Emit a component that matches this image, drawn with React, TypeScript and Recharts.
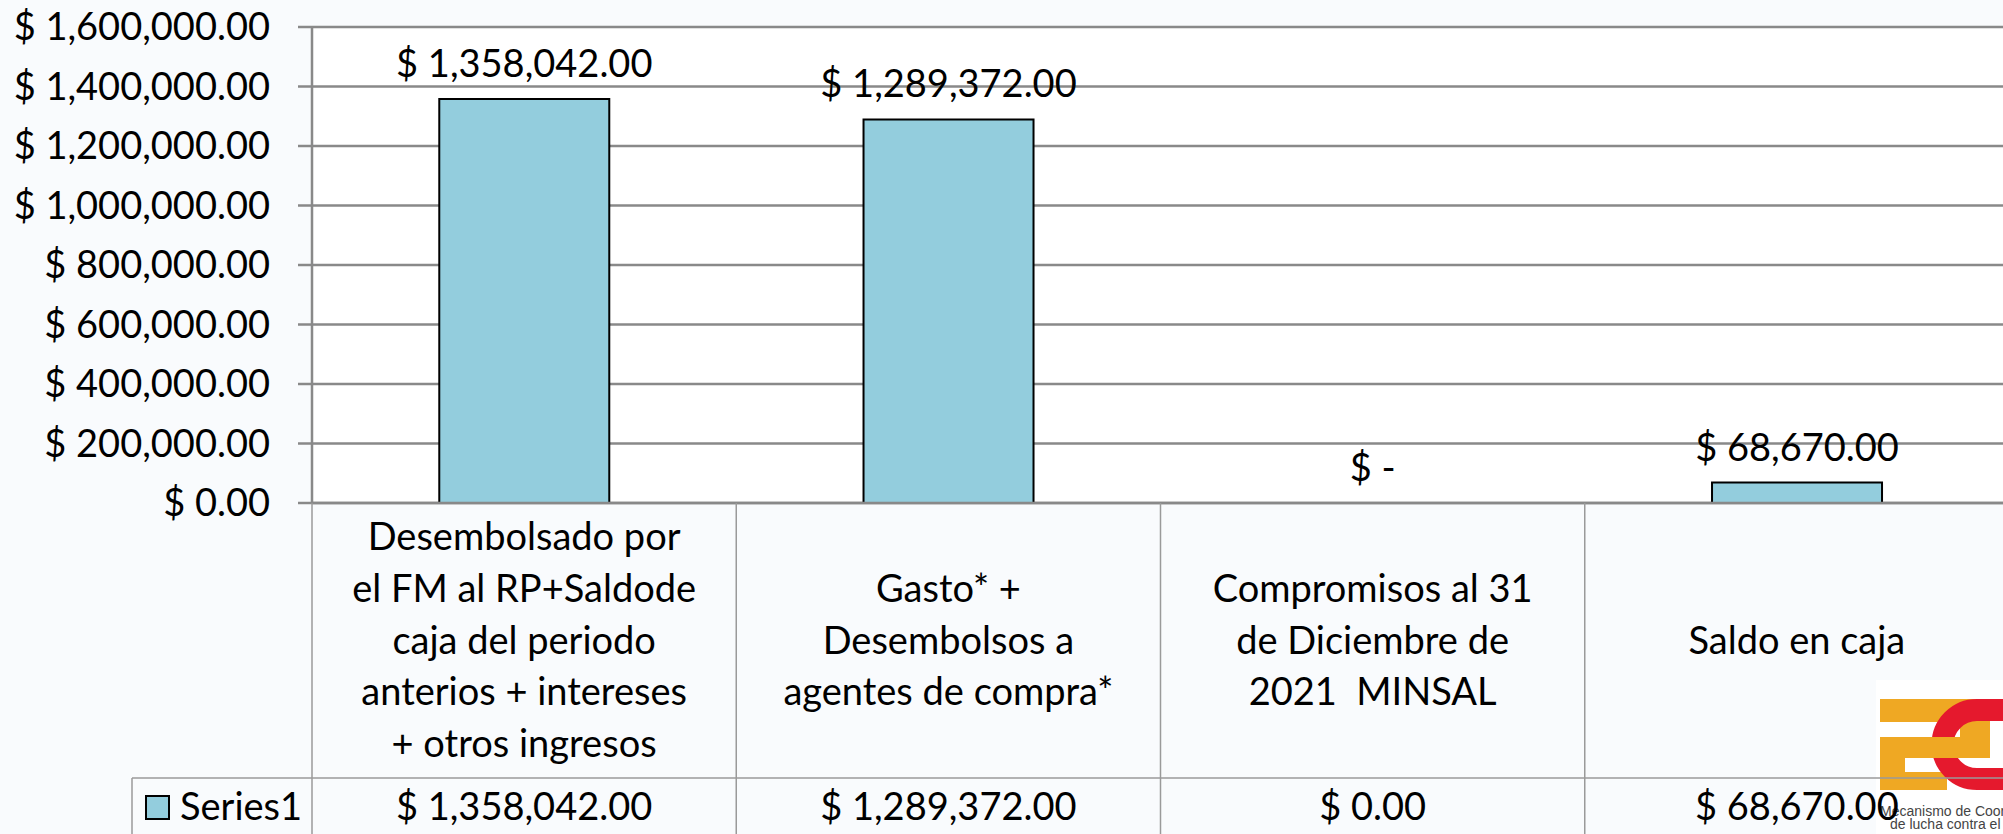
import React from "react";
import { Bar, BarChart, CartesianGrid, LabelList, XAxis, YAxis } from "recharts";

// chart values
const CATEGORY_LINES: string[][] = [
  ["Desembolsado por", "el FM al RP+Saldode", "caja del periodo", "anterios + intereses", "+ otros ingresos"],
  ["Gasto* +", "Desembolsos a", "agentes de compra*"],
  ["Compromisos al 31", "de Diciembre de", "2021  MINSAL"],
  ["Saldo en caja"],
];
const SERIES_NAME = "Series1";
const SERIES1 = [1358042, 1289372, 0, 68670];
const Y_TICKS = [0, 200000, 400000, 600000, 800000, 1000000, 1200000, 1400000, 1600000];

const data = CATEGORY_LINES.map((lines, i) => ({ name: lines.join(" "), value: SERIES1[i] }));

// layout
const FONT = "Lato, 'Open Sans', sans-serif";
const FS = 38;
const CHART_W = 2020;
const CHART_H = 834;
const PLOT_LEFT = 312;
const MARGIN_RIGHT = 11;
const X_AXIS_H = 331;
const ZERO_Y = CHART_H - X_AXIS_H;
const ROW_Y = 778;
const LINE_H = 51.7;
const BAND = (CHART_W - PLOT_LEFT - MARGIN_RIGHT) / SERIES1.length;
const TABLE_LEFT = 132;
const LABEL_OFFSET = 22;

const GRID = "#898989";
const TABLE_LINE = "#9a9a9a";
const BAR_FILL = "#93cddd";

const money = (v: number) =>
  "$ " + v.toLocaleString("en-US", { minimumFractionDigits: 2, maximumFractionDigits: 2 });

function TableTick(props: any) {
  const { x, payload } = props;
  const i = payload.index;
  const lines = CATEGORY_LINES[i];
  const left = x - BAND / 2;
  const mid = (ZERO_Y + ROW_Y) / 2;
  const first = mid - ((lines.length - 1) / 2) * LINE_H + 13;
  return (
    <g>
      <line x1={left} x2={left} y1={ZERO_Y} y2={CHART_H} stroke={TABLE_LINE} strokeWidth={1.5} />
      {lines.map((l, k) => (
        <text key={k} x={x} y={first + k * LINE_H} textAnchor="middle" fontSize={FS}
          fontFamily={FONT} fill="#000" style={{ whiteSpace: "pre" }}>
          {l}
        </text>
      ))}
      {/* zero bars draw no rectangle, so their "$ -" label sits on the axis */}
      {SERIES1[i] === 0 && (
        <text x={x} y={ZERO_Y - LABEL_OFFSET} textAnchor="middle" fontSize={FS} fontFamily={FONT} fill="#000">
          $ -
        </text>
      )}
      <text x={x} y={820} textAnchor="middle" fontSize={FS} fontFamily={FONT} fill="#000">
        {money(SERIES1[i])}
      </text>
      {i === 0 && (
        <g>
          <line x1={TABLE_LEFT} x2={CHART_W} y1={ROW_Y} y2={ROW_Y} stroke={TABLE_LINE} strokeWidth={1.5} />
          <line x1={TABLE_LEFT} x2={TABLE_LEFT} y1={ROW_Y} y2={CHART_H} stroke={TABLE_LINE} strokeWidth={1.5} />
          <rect x={146} y={796} width={23} height={23} fill={BAR_FILL} stroke="#000" strokeWidth={2} />
          <text x={180} y={820} fontSize={FS} fontFamily={FONT} fill="#000">{SERIES_NAME}</text>
        </g>
      )}
    </g>
  );
}

function Logo() {
  return (
    <svg width={127} height={154} style={{ position: "absolute", left: 1876, top: 680 }}>
      <rect x={0} y={0} width={127} height={154} fill="#ffffff" />
      <path d="M4,19 H114 V78 H29 V92 H71 V110 H4 V57 H84 V42 H4 Z" fill="#efa823" />
      <path d="M132,30 H101 A34,34 0 0 0 101,99 H132" fill="none" stroke="#e5192d" strokeWidth={22} />
      <rect x={4} y={57} width={84} height={21} fill="#efa823" />
      <text x={4} y={136} fontSize={14} fontFamily="'Liberation Sans', Arial, sans-serif" fill="#444">
        Mecanismo de Coordinación
      </text>
      <text x={14} y={149} fontSize={14} fontFamily="'Liberation Sans', Arial, sans-serif" fill="#444">
        de lucha contra el
      </text>
    </svg>
  );
}

export default function App() {
  return (
    <div style={{ position: "absolute", left: 0, top: 0, width: 2003, height: 834, overflow: "hidden", background: "#f9fbfd" }}>
      <Logo />
      <div style={{ position: "absolute", left: 0, top: 0 }}>
        <BarChart width={CHART_W} height={CHART_H} data={data} barCategoryGap="30%"
          margin={{ top: 27, right: MARGIN_RIGHT, bottom: 0, left: 0 }}>
          <CartesianGrid vertical={false} stroke={GRID} strokeWidth={2.5} fill="#ffffff" fillOpacity={1} />
          <XAxis dataKey="name" height={X_AXIS_H} interval={0} tickLine={false}
            axisLine={{ stroke: GRID, strokeWidth: 2.5 }} tick={<TableTick />} />
          <YAxis width={PLOT_LEFT} domain={[0, 1600000]} ticks={Y_TICKS} interval={0}
            tickFormatter={money} tickSize={14} tickMargin={28}
            axisLine={{ stroke: GRID, strokeWidth: 2.5 }} tickLine={{ stroke: GRID, strokeWidth: 2.5 }}
            tick={{ fill: "#000", fontSize: FS, fontFamily: FONT }} />
          <Bar dataKey="value" fill={BAR_FILL} stroke="#000" strokeWidth={2} isAnimationActive={false}>
            <LabelList dataKey="value" position="top" offset={LABEL_OFFSET}
              formatter={(v: any) => (Number(v) === 0 ? "" : money(Number(v)))}
              style={{ fill: "#000", fontSize: FS, fontFamily: FONT }} />
          </Bar>
        </BarChart>
      </div>
    </div>
  );
}
